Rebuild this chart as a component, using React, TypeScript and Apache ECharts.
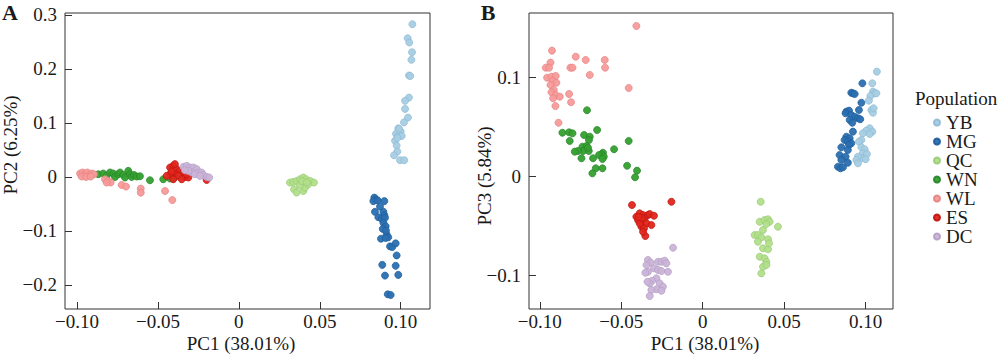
import React, { useEffect, useRef } from "react";
import * as echarts from "echarts";

const populations = ["YB", "MG", "QC", "WN", "WL", "ES", "DC"];
const colors = ["#a6cee3", "#2b6fb0", "#b2df8a", "#35a02f", "#f59b9a", "#e0261d", "#cbb4d8"];
const borders = ["#8fbbd6", "#1d5e9e", "#9acb76", "#26872a", "#e78483", "#c0150f", "#b59fc6"];

const xTicks = [-0.1, -0.05, 0, 0.05, 0.1];
const yTicksA = [-0.2, -0.1, 0, 0.1, 0.2, 0.3];
const yTicksB = [-0.1, 0, 0.1];

// Panel A: PC1 vs PC2
const ybA = [[0.1072,0.283],[0.1043,0.257],[0.1053,0.249],[0.107,0.231],[0.1066,0.217],[0.1051,0.188],[0.1059,0.187],[0.1051,0.147],[0.1027,0.141],[0.1027,0.126],[0.1045,0.11],[0.102,0.101],[0.0985,0.09],[0.1,0.084],[0.0971,0.08],[0.0981,0.075],[0.1006,0.076],[0.0965,0.067],[0.0975,0.058],[0.0979,0.047],[0.0959,0.04],[0.0996,0.031],[0.1022,0.031],[0.099,0.089],[0.098,0.072]];
const mgA = [[0.0837,-0.0384],[0.0846,-0.0416],[0.0831,-0.0448],[0.0858,-0.0435],[0.0899,-0.0448],[0.0841,-0.0646],[0.0893,-0.0646],[0.0899,-0.0709],[0.0862,-0.0746],[0.0883,-0.0776],[0.0903,-0.0757],[0.0893,-0.0851],[0.0907,-0.0914],[0.0889,-0.0963],[0.0913,-0.1069],[0.0923,-0.1119],[0.0878,-0.1144],[0.0907,-0.1131],[0.0934,-0.1287],[0.0948,-0.1299],[0.0969,-0.1231],[0.0975,-0.1455],[0.0886,-0.1629],[0.0969,-0.1647],[0.0903,-0.1828],[0.0985,-0.1815],[0.092,-0.2175],[0.0938,-0.2188],[0.0872,-0.0547],[0.0909,-0.0994]];
const qcA = [[0.0316,-0.0104],[0.0336,-0.0093],[0.0357,-0.0075],[0.0378,-0.0043],[0.0398,-0.0011],[0.0415,-0.0043],[0.044,-0.0075],[0.0464,-0.0104],[0.0341,-0.023],[0.0357,-0.029],[0.0398,-0.026],[0.0409,-0.0198],[0.0378,-0.0155],[0.0429,-0.0136],[0.039,-0.008],[0.042,-0.01]];
const wnA = [[-0.0868,0.005],[-0.0838,0.0063],[-0.0817,0.0019],[-0.0796,0.0082],[-0.0776,0.0063],[-0.0765,0.0],[-0.0745,0.005],[-0.0734,0.0082],[-0.0714,0.0037],[-0.0703,-0.0011],[-0.0683,0.0112],[-0.0673,0.005],[-0.0662,0.0],[-0.0648,0.0037],[-0.0631,0.0007],[-0.0611,0.0013],[-0.0549,-0.0062],[-0.0467,-0.0043],[-0.0425,-0.003],[-0.0405,-0.003]];
const wlA = [[-0.0981,0.0063],[-0.0965,0.0082],[-0.0951,0.005],[-0.0936,0.0082],[-0.0924,0.0037],[-0.0909,0.0063],[-0.0895,0.005],[-0.0971,0.0007],[-0.0944,0.0],[-0.0915,0.0007],[-0.0827,-0.0043],[-0.0807,-0.0075],[-0.0792,-0.0104],[-0.0817,-0.0104],[-0.0724,-0.0149],[-0.0697,-0.0179],[-0.0606,-0.0216],[-0.0606,-0.0291],[-0.0456,-0.0261],[-0.0411,-0.0429]];
const esA = [[-0.0425,0.0175],[-0.0405,0.0205],[-0.0384,0.0144],[-0.0364,0.0112],[-0.0343,0.0082],[-0.0395,0.005],[-0.0425,0.005],[-0.0374,0.0019],[-0.0333,0.0],[-0.0312,-0.0011],[-0.0353,-0.0043],[-0.0405,-0.0043],[-0.0446,0.0019],[-0.0395,0.0237],[-0.0415,0.0101],[-0.0322,0.005],[-0.0199,-0.0056]];
const dcA = [[-0.0343,0.0187],[-0.0322,0.0205],[-0.0302,0.0175],[-0.0281,0.0175],[-0.026,0.0144],[-0.0251,0.0082],[-0.023,0.0082],[-0.022,0.0037],[-0.0199,0.0],[-0.0183,-0.0011],[-0.0291,0.0082],[-0.0271,0.005],[-0.0312,0.0112],[-0.024,0.0019],[-0.0333,0.0125]];

// Panel B: PC1 vs PC3
const ybB = [[0.1069,0.1061],[0.1041,0.0943],[0.1045,0.0859],[0.1055,0.0842],[0.1029,0.0815],[0.1066,0.0842],[0.102,0.0768],[0.1035,0.0673],[0.1045,0.0646],[0.1049,0.0691],[0.1025,0.0489],[0.1004,0.0465],[0.1041,0.0455],[0.0983,0.0438],[0.1025,0.0431],[0.0974,0.0371],[0.0959,0.0354],[0.0974,0.0297],[0.0994,0.0277],[0.0983,0.0236],[0.1008,0.0229],[0.0974,0.0186],[0.1,0.0176],[0.0953,0.0202],[0.0943,0.0169],[0.0953,0.0135]];
const mgB = [[0.098,0.0943],[0.0912,0.0848],[0.0922,0.0842],[0.0933,0.0835],[0.0974,0.0747],[0.0959,0.0674],[0.0882,0.0657],[0.0898,0.0667],[0.0877,0.064],[0.0912,0.0623],[0.0933,0.0606],[0.0953,0.059],[0.0967,0.058],[0.0902,0.0573],[0.0918,0.0545],[0.0922,0.0455],[0.0882,0.0404],[0.0902,0.0388],[0.0871,0.0371],[0.0891,0.0354],[0.0912,0.0337],[0.0898,0.032],[0.0851,0.0297],[0.0891,0.027],[0.084,0.0219],[0.0877,0.0202],[0.0851,0.0169],[0.083,0.0101],[0.0845,0.0085],[0.0861,0.0095],[0.0891,0.0141]];
const qcB = [[0.0356,-0.0253],[0.035,-0.0455],[0.038,-0.0437],[0.0401,-0.043],[0.0411,-0.0455],[0.0391,-0.0478],[0.0462,-0.0505],[0.037,-0.0538],[0.0319,-0.0589],[0.0339,-0.0589],[0.036,-0.0612],[0.0401,-0.0632],[0.037,-0.0723],[0.0401,-0.0733],[0.035,-0.0808],[0.038,-0.0824],[0.0391,-0.0859],[0.037,-0.0909],[0.036,-0.0976],[0.0391,-0.0892],[0.0407,-0.0673],[0.0339,-0.0657]];
const wnB = [[-0.071,0.0671],[-0.0861,0.0444],[-0.082,0.0448],[-0.0799,0.0438],[-0.0648,0.0472],[-0.0728,0.0421],[-0.0693,0.0404],[-0.0698,0.0371],[-0.0816,0.0361],[-0.0454,0.0361],[-0.0738,0.0303],[-0.0713,0.031],[-0.0734,0.026],[-0.0765,0.026],[-0.0785,0.0253],[-0.0699,0.026],[-0.0704,0.0293],[-0.0544,0.0277],[-0.0612,0.0242],[-0.0621,0.0226],[-0.0636,0.0219],[-0.0607,0.0202],[-0.0744,0.0186],[-0.0673,0.0186],[-0.0615,0.0179],[-0.0464,0.0111],[-0.0656,0.0085],[-0.0615,0.0085],[-0.0677,0.0034],[-0.0403,0.0061],[-0.0415,-0.0006]];
const wlB = [[-0.0407,0.1522],[-0.0925,0.1273],[-0.0779,0.1212],[-0.0718,0.1179],[-0.0601,0.1179],[-0.0934,0.1152],[-0.0963,0.1101],[-0.0943,0.1101],[-0.0812,0.1101],[-0.0799,0.1101],[-0.0599,0.1101],[-0.0693,0.1027],[-0.0955,0.1],[-0.0928,0.101],[-0.0902,0.1017],[-0.0922,0.0967],[-0.0898,0.0949],[-0.0934,0.0926],[-0.0914,0.0876],[-0.0928,0.0853],[-0.0902,0.0825],[-0.0877,0.0808],[-0.082,0.0835],[-0.0918,0.0792],[-0.0454,0.0896],[-0.0808,0.0752],[-0.0904,0.0714],[-0.0885,0.0545]];
const esB = [[-0.0434,-0.0286],[-0.0192,-0.0253],[-0.0407,-0.0404],[-0.0387,-0.037],[-0.0366,-0.0387],[-0.0397,-0.0437],[-0.0376,-0.0455],[-0.0356,-0.042],[-0.0336,-0.0387],[-0.0325,-0.0377],[-0.0299,-0.0394],[-0.0345,-0.0471],[-0.0315,-0.0488],[-0.0376,-0.0505],[-0.036,-0.0521],[-0.0352,-0.0599],[-0.0387,-0.0471],[-0.0366,-0.0556],[-0.0374,-0.0417],[-0.0393,-0.0407]];
const dcB = [[-0.0182,-0.0717],[-0.0336,-0.0841],[-0.0319,-0.0869],[-0.0345,-0.0892],[-0.0274,-0.0859],[-0.0253,-0.0859],[-0.0233,-0.0848],[-0.0223,-0.0875],[-0.0299,-0.0925],[-0.0274,-0.0942],[-0.0253,-0.0953],[-0.0213,-0.096],[-0.0336,-0.096],[-0.0352,-0.097],[-0.0284,-0.1026],[-0.0311,-0.1051],[-0.0325,-0.1077],[-0.0339,-0.1061],[-0.0264,-0.1077],[-0.0244,-0.1111],[-0.0284,-0.1137],[-0.0315,-0.1144],[-0.0253,-0.1152],[-0.0325,-0.1205]];

const panelA = [ybA, mgA, qcA, wnA, wlA, esA, dcA];
const panelB = [ybB, mgB, qcB, wnB, wlB, esB, dcB];

const FONT = "'Liberation Serif', 'Times New Roman', serif";
const TXT = "#1a1a1a";

function fmt(decimals: number) {
  return (v: number) => {
    if (Math.abs(v) < 1e-9) return "0";
    return (v < 0 ? "\u2212" : "") + Math.abs(v).toFixed(decimals);
  };
}

function xAxis(gridIndex: number, min: number, max: number) {
  return {
    type: "value",
    gridIndex,
    min,
    max,
    position: "bottom",
    axisLine: { show: false, onZero: false },
    splitLine: { show: false },
    axisTick: { show: true, inside: true, length: 7, customValues: xTicks, lineStyle: { color: "#333", width: 1 } },
    axisLabel: { customValues: xTicks, formatter: fmt(2), fontFamily: FONT, fontSize: 19, color: TXT, margin: 3 },
  };
}

function yAxis(gridIndex: number, min: number, max: number, ticks: number[]) {
  return {
    type: "value",
    gridIndex,
    min,
    max,
    position: "left",
    axisLine: { show: false, onZero: false },
    splitLine: { show: false },
    axisTick: { show: true, inside: true, length: 7, customValues: ticks, lineStyle: { color: "#333", width: 1 } },
    axisLabel: { customValues: ticks, formatter: fmt(1), fontFamily: FONT, fontSize: 19, color: TXT, margin: 8 },
  };
}

export default function App() {
  const ref = useRef<HTMLDivElement>(null);
  useEffect(() => {
    if (!ref.current) return;
    const chart = echarts.init(ref.current, null, { renderer: "svg" });
    const series: any[] = [];
    [panelA, panelB].forEach((panel, gi) => {
      panel.forEach((pts, i) => {
        series.push({
          type: "scatter",
          name: populations[i],
          xAxisIndex: gi,
          yAxisIndex: gi,
          data: pts,
          symbol: "circle",
          symbolSize: 7,
          itemStyle: { color: colors[i], borderColor: borders[i], borderWidth: 0.8, opacity: 0.95 },
          emphasis: { disabled: true },
        });
      });
    });
    chart.setOption({
      animation: false,
      grid: [
        { left: 65, top: 13, width: 365, height: 296, show: true, borderColor: "#333", borderWidth: 1, backgroundColor: "transparent" },
        { left: 529, top: 13, width: 364, height: 296, show: true, borderColor: "#333", borderWidth: 1, backgroundColor: "transparent" },
      ],
      xAxis: [xAxis(0, -0.1074, 0.1181), xAxis(1, -0.1066, 0.1168)],
      yAxis: [yAxis(0, -0.2447, 0.3037, yTicksA), yAxis(1, -0.1336, 0.1653, yTicksB)],
      legend: {
        data: populations,
        orient: "vertical",
        left: 928,
        top: 108,
        itemWidth: 6,
        itemHeight: 6,
        itemGap: 0,
        icon: "circle",
        textStyle: { fontFamily: FONT, fontSize: 19, color: TXT, lineHeight: 19, padding: [0, 0, 0, 1] },
        selectedMode: false,
      },
      graphic: [
        { type: "text", x: 10, y: 12, style: { text: "A", font: `bold 22px ${FONT}`, fill: TXT, align: "center", verticalAlign: "middle" } },
        { type: "text", x: 488, y: 12, style: { text: "B", font: `bold 22px ${FONT}`, fill: TXT, align: "center", verticalAlign: "middle" } },
        { type: "text", x: 241, y: 343, style: { text: "PC1 (38.01%)", font: `19px ${FONT}`, fill: TXT, align: "center", verticalAlign: "middle" } },
        { type: "text", x: 705, y: 343, style: { text: "PC1 (38.01%)", font: `19px ${FONT}`, fill: TXT, align: "center", verticalAlign: "middle" } },
        { type: "text", x: 10, y: 145, rotation: Math.PI / 2, style: { text: "PC2 (6.25%)", font: `19px ${FONT}`, fill: TXT, align: "center", verticalAlign: "middle" } },
        { type: "text", x: 484, y: 176, rotation: Math.PI / 2, style: { text: "PC3 (5.84%)", font: `19px ${FONT}`, fill: TXT, align: "center", verticalAlign: "middle" } },
        { type: "text", x: 915, y: 98, style: { text: "Population", font: `19px ${FONT}`, fill: TXT, align: "left", verticalAlign: "middle" } },
      ],
      series,
    });
    return () => chart.dispose();
  }, []);
  return <div ref={ref} style={{ width: 1000, height: 357, position: "absolute", left: 0, top: 0 }} />;
}
